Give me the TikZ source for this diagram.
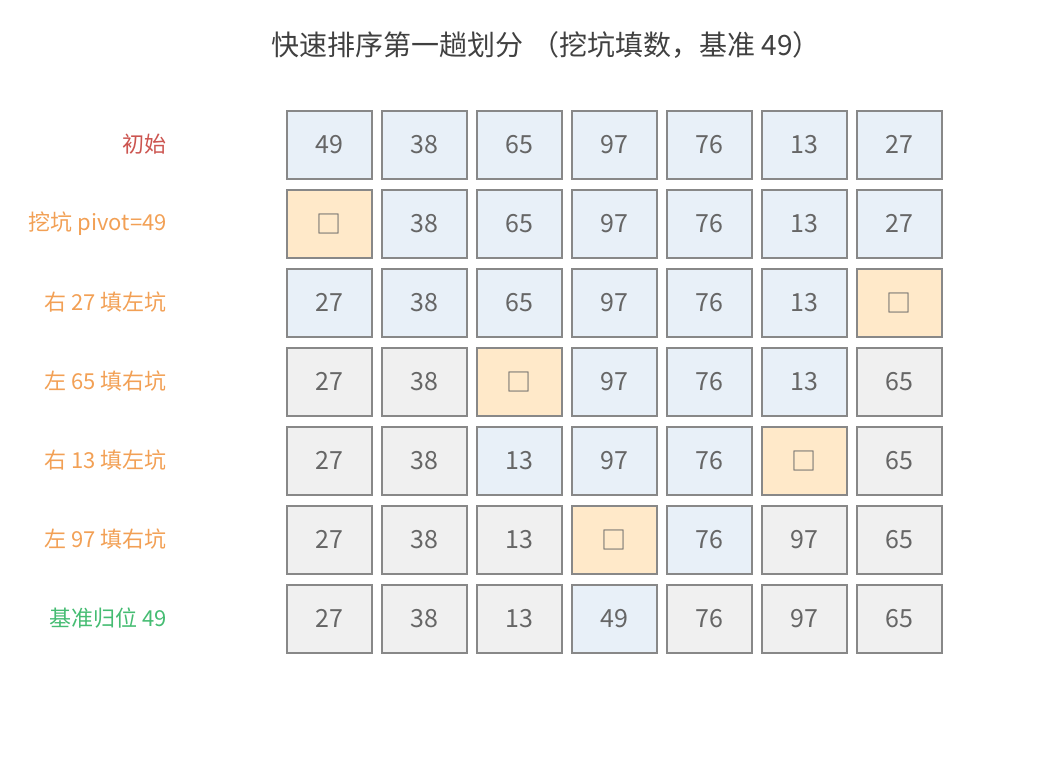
\documentclass[tikz,border=0pt]{standalone}
\usepackage{fontspec}
\setmainfont{Noto Sans CJK SC}
\usepackage{xcolor}
\usepackage{tikz}
\usetikzlibrary{positioning}
\definecolor{cb}{HTML}{E8F0F8}
\definecolor{co}{HTML}{FFE9C9}
\definecolor{cg}{HTML}{F0F0F0}
\definecolor{edgegray}{HTML}{888888}
\definecolor{numgray}{HTML}{666666}
\definecolor{labred}{HTML}{CC5550}
\definecolor{laborange}{HTML}{F2A055}
\definecolor{labgreen}{HTML}{45BC72}

\begin{document}
\begin{tikzpicture}[
  x=1pt, y=-1pt,
  cell/.style={draw=edgegray, line width=2pt, fill=#1,
               minimum width=85pt, minimum height=68pt,
               font=\fontsize{25}{29}\selectfont, text=numgray},
  steplabel/.style={anchor=east, inner sep=0pt, font=\fontsize{22}{26}\selectfont}
]
  \useasboundingbox (0,0) rectangle (1041,777);
  \node[font=\fontsize{28}{33}\selectfont, text=black!75] (title) at (546,45)
    {快速排序第一趟划分\hspace{0.3em}（挖坑填数，基准 49）};

  \foreach \lab/\lc/\cells [count=\r] in {
    初始/labred/{b/49,b/38,b/65,b/97,b/76,b/13,b/27},
    挖坑 pivot=49/laborange/{o/□,b/38,b/65,b/97,b/76,b/13,b/27},
    右 27 填左坑/laborange/{b/27,b/38,b/65,b/97,b/76,b/13,o/□},
    左 65 填右坑/laborange/{g/27,g/38,o/□,b/97,b/76,b/13,g/65},
    右 13 填左坑/laborange/{g/27,g/38,b/13,b/97,b/76,o/□,g/65},
    左 97 填右坑/laborange/{g/27,g/38,g/13,o/□,b/76,g/97,g/65},
    基准归位 49/labgreen/{g/27,g/38,g/13,b/49,g/76,g/97,g/65}} {
    \node[steplabel, text=\lc] (lab\r) at (167,{144.5+79*(\r-1)}) {\lab};
    \foreach \t/\v [count=\i] in \cells
      \node[cell=c\t] (c\r-\i) at ({329+95*(\i-1)},{144.5+79*(\r-1)}) {\v};
  }
\end{tikzpicture}
\end{document}
